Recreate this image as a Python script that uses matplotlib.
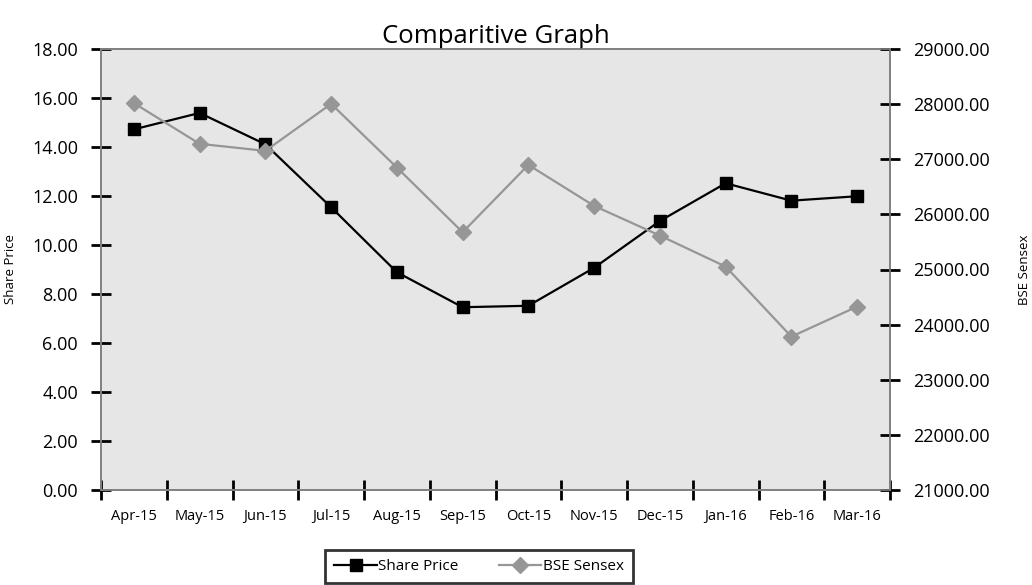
import matplotlib
matplotlib.use("Agg")
import matplotlib.pyplot as plt
import numpy as np

plt.rcParams['font.family'] = ['Open Sans', 'DejaVu Sans']

# data
months = ['Apr-15', 'May-15', 'Jun-15', 'Jul-15', 'Aug-15', 'Sep-15',
          'Oct-15', 'Nov-15', 'Dec-15', 'Jan-16', 'Feb-16', 'Mar-16']
share_price = [14.72, 15.39, 14.11, 11.54, 8.89, 7.46,
               7.52, 9.07, 10.98, 12.52, 11.81, 11.99]
bse_sensex = [28018, 27280, 27152, 28005, 26850, 25676,
              26898, 26154, 25615, 25053, 23782, 24327]

left_ticks = np.arange(0, 18.01, 2)
right_ticks = np.arange(21000, 29000.1, 1000)

BG = '#e6e6e6'
SPINE = '#808080'
GREY = '#969696'

fig = plt.figure(figsize=(10.32, 5.85), dpi=100)
ax = fig.add_axes([101 / 1032, 1 - 490 / 585, 789 / 1032, 441 / 585])
ax.set_facecolor(BG)
ax2 = ax.twinx()

x = np.arange(len(months))
l1, = ax.plot(x, share_price, color='black', lw=1.6, marker='s',
              markersize=8.5, label='Share Price', zorder=3)
l2, = ax2.plot(x, bse_sensex, color=GREY, lw=1.6, marker='D',
               markersize=8, markeredgecolor=GREY, label='BSE Sensex')

ax.set_xlim(-0.5, len(months) - 0.5)
ax.set_ylim(0, 18)
ax2.set_ylim(21000, 29000)

# boundary ticks (major) and centred labels (minor)
ax.set_xticks(np.arange(-0.5, len(months), 1))
ax.set_xticklabels([])
ax.set_xticks(x, minor=True)
ax.set_xticklabels(months, minor=True, fontsize=10.5)
ax.tick_params(axis='x', which='minor', length=0, pad=14)
ax.tick_params(axis='x', which='major', direction='inout', length=15,
               width=2, color='black')

ax.set_yticks(left_ticks)
ax.set_yticklabels([f'{v:.2f}' for v in left_ticks], fontsize=13)
ax.tick_params(axis='y', direction='inout', length=15, width=2,
               color='black', pad=9)

ax2.set_yticks(right_ticks)
ax2.set_yticklabels([f'{v:.2f}' for v in right_ticks], fontsize=13)
ax2.tick_params(axis='y', direction='inout', length=15, width=2,
                color='black', pad=9)

for a in (ax, ax2):
    for s in a.spines.values():
        s.set_color(SPINE)
        s.set_linewidth(1.2)

ax.set_ylabel('Share Price', fontsize=9.5)
ax.yaxis.set_label_coords(-0.106, 0.5)
ax2.set_ylabel('BSE Sensex', fontsize=9.5)
ax2.yaxis.set_label_coords(1.162, 0.5)

ax.set_title('Comparitive Graph', fontsize=18.5, pad=4)

leg = fig.legend(handles=[l1, l2], loc='upper center',
                 bbox_to_anchor=(479 / 1032, 1 - 550 / 585), ncol=2,
                 fontsize=11, frameon=True, fancybox=False,
                 handlelength=2.8, handletextpad=0.1, columnspacing=2.6,
                 borderpad=0.6, borderaxespad=0)
leg.get_frame().set_edgecolor('black')
leg.get_frame().set_linewidth(2)

fig.savefig('out.png', dpi=100)
